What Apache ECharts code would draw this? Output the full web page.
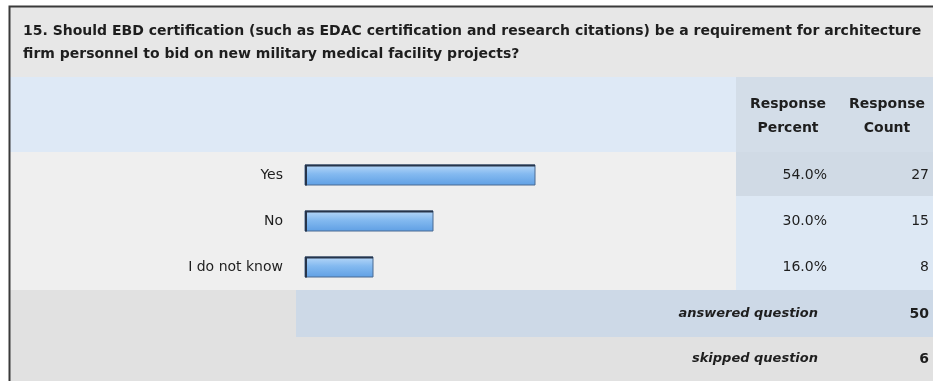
<!DOCTYPE html>
<html>
<head>
<meta charset="utf-8">
<script src="https://cdn.jsdelivr.net/npm/echarts@6/dist/echarts.min.js"></script>
<style>
  html, body { margin: 0; padding: 0; background: #ffffff; }
  #chart { width: 933px; height: 381px; }
</style>
</head>
<body>
<div id="chart"></div>
<script>
// Survey question 15: answer options, share of respondents and raw counts
const questionLines = [
  '15. Should EBD certification (such as EDAC certification and research citations) be a requirement for architecture',
  'firm personnel to bid on new military medical facility projects?'
];
const categories = ['Yes', 'No', 'I do not know'];
const responsePercent = [54.0, 30.0, 16.0];
const responseCount = [27, 15, 8];
const headerPercent = ['Response', 'Percent'];
const headerCount = ['Response', 'Count'];
const answeredLabel = 'answered question';
const skippedLabel = 'skipped question';
const answeredQuestion = 50;
const skippedQuestion = 6;

const FONT = '"DejaVu Sans", Verdana, sans-serif';
const TEXT = '#1e1e1e';

const chart = echarts.init(document.getElementById('chart'), null, { renderer: 'canvas' });

// Table background panels
const panels = [
  { x: 10, y: 7, w: 923, h: 70, c: '#e7e7e7' },     // question band
  { x: 10, y: 77, w: 726, h: 75, c: '#dee9f6' },    // header, left
  { x: 736, y: 77, w: 197, h: 75, c: '#d3dde8' },   // header, value columns
  { x: 10, y: 152, w: 726, h: 138, c: '#efefef' },  // answer rows, left
  { x: 736, y: 152, w: 197, h: 44, c: '#d0dae5' },  // first row value cells
  { x: 736, y: 196, w: 197, h: 94, c: '#dde8f4' },  // other row value cells
  { x: 10, y: 290, w: 923, h: 91, c: '#e1e1e1' },   // summary rows
  { x: 296, y: 290, w: 637, h: 47, c: '#cdd9e7' }   // answered row highlight
];

const graphics = panels.map(p => ({
  type: 'rect', silent: true, z: -10,
  shape: { x: p.x, y: p.y, width: p.w, height: p.h },
  style: { fill: p.c }
}));

// outer frame (left and top edges)
graphics.push({
  type: 'polyline', silent: true, z: 5,
  shape: { points: [[9.5, 381], [9.5, 6.5], [933, 6.5]] },
  style: { stroke: '#3a3a3a', lineWidth: 2, fill: null }
});

// question text
questionLines.forEach((line, i) => {
  graphics.push({
    type: 'text', silent: true,
    style: {
      x: 23, y: 31 + i * 23, text: line,
      font: 'bold 14px ' + FONT, fill: TEXT,
      align: 'left', verticalAlign: 'middle'
    }
  });
});

// column headers
[[headerPercent, 788], [headerCount, 887]].forEach(([lines, cx]) => {
  lines.forEach((t, i) => {
    graphics.push({
      type: 'text', silent: true,
      style: {
        x: cx, y: 104 + i * 24, text: t,
        font: 'bold 14px ' + FONT, fill: TEXT,
        align: 'center', verticalAlign: 'middle'
      }
    });
  });
});

// summary rows
[[answeredLabel, answeredQuestion, 314], [skippedLabel, skippedQuestion, 359]].forEach(([label, val, cy]) => {
  graphics.push({
    type: 'text', silent: true,
    style: {
      x: 818, y: cy, text: label,
      font: 'italic bold 13px ' + FONT, fill: TEXT,
      align: 'right', verticalAlign: 'middle'
    }
  });
  graphics.push({
    type: 'text', silent: true,
    style: {
      x: 929, y: cy, text: String(val),
      font: 'bold 14px ' + FONT, fill: TEXT,
      align: 'right', verticalAlign: 'middle'
    }
  });
});

const barFill = new echarts.graphic.LinearGradient(0, 0, 0, 1, [
  { offset: 0, color: '#b9d8f8' },
  { offset: 0.45, color: '#84baf0' },
  { offset: 1, color: '#5f9fe4' }
]);

const option = {
  backgroundColor: '#ffffff',
  animation: false,
  grid: { left: 305, right: 202, top: 152, height: 138, containLabel: false },
  xAxis: {
    type: 'value', min: 0, max: 100, show: false
  },
  yAxis: [
    {
      type: 'category', data: categories, inverse: true,
      axisLine: { show: false }, axisTick: { show: false }, splitLine: { show: false },
      axisLabel: { margin: 22, fontSize: 14, fontFamily: FONT, color: TEXT }
    },
    {
      type: 'category', data: categories, inverse: true, position: 'right',
      axisLine: { show: false }, axisTick: { show: false }, splitLine: { show: false },
      axisLabel: {
        margin: 96, align: 'right', fontSize: 14, fontFamily: FONT, color: TEXT,
        padding: [4, 0, 0, 0],
        formatter: (v, i) => responsePercent[i].toFixed(1) + '%'
      }
    },
    {
      type: 'category', data: categories, inverse: true, position: 'right',
      axisLine: { show: false }, axisTick: { show: false }, splitLine: { show: false },
      axisLabel: {
        margin: 198, align: 'right', fontSize: 14, fontFamily: FONT, color: TEXT,
        padding: [4, 0, 0, 0],
        formatter: (v, i) => String(responseCount[i])
      }
    }
  ],
  series: [{
    type: 'custom',
    data: responsePercent.map((v, i) => [v, i]),
    encode: { x: 0, y: 1 },
    renderItem: (params, api) => {
      const end = api.coord([api.value(0), api.value(1)]);
      const start = api.coord([0, api.value(1)]);
      const h = 20;
      const x0 = Math.round(start[0]);
      const y0 = Math.round(end[1] - h / 2);
      const w = Math.round(end[0] - start[0]);
      return {
        type: 'group',
        children: [
          {
            type: 'rect',
            shape: { x: x0, y: y0, width: w, height: h },
            style: { fill: barFill, stroke: '#4b6a92', lineWidth: 1 }
          },
          {
            type: 'polyline',
            shape: { points: [[x0 + 1, y0 + h + 0.5], [x0 + 1, y0 + 0.5], [x0 + w, y0 + 0.5]] },
            style: { stroke: '#26344a', lineWidth: 2, fill: null }
          }
        ]
      };
    }
  }],
  graphic: graphics
};

chart.setOption(option);
</script>
</body>
</html>
